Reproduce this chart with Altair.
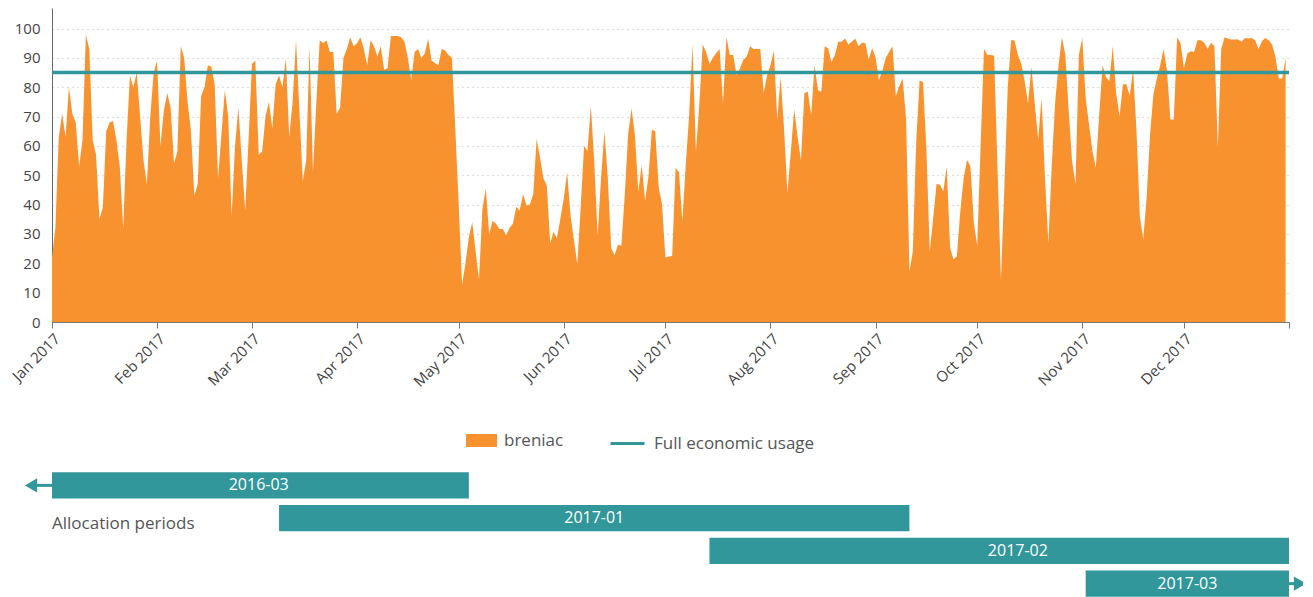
import altair as alt
import pandas as pd

# ---------------- data ----------------
start_date = "2017-01-01"
usage = [
    22, 32, 63, 71, 63, 80, 71, 68, 53, 62,
    98, 93, 62, 57, 35, 39, 65, 68, 68.5, 62,
    53, 32, 62, 84, 80, 85, 70, 55, 47, 70,
    85, 89, 60, 72, 78, 73, 54, 58, 94, 90,
    75, 65, 43, 47, 77, 80, 87.5, 87, 81, 49,
    64, 79, 70, 36, 60, 73, 55, 38, 62, 88,
    89, 57, 58, 70, 75, 66, 81, 84, 80, 90,
    63, 75, 96, 72, 48, 55, 94, 51, 75, 96,
    95, 96, 92, 92, 71, 73, 90, 93, 97, 94,
    95, 97, 93, 87.5, 96, 94, 90.5, 94, 86, 86.5,
    97.5, 97.5, 97.5, 97, 95.5, 90, 82.5, 92, 93, 90,
    91.5, 96.5, 89, 88.3, 87.5, 93, 92.5, 91, 90, 66,
    40, 12.6, 20, 29, 34, 24, 14.5, 38.5, 45.5, 30,
    34.5, 33.5, 31.7, 31.7, 29.6, 32, 33.5, 39.3, 38, 43.5,
    39.7, 40, 43.5, 62.4, 56, 49, 46.5, 26.8, 30.7, 28.5,
    35.3, 42, 51, 36.3, 28, 19.7, 39, 60, 58.3, 73.7,
    54.4, 29.5, 49, 65, 49, 25.2, 22.7, 26.3, 26, 43.2,
    64, 72.8, 63.7, 44.4, 53.4, 41.5, 49.5, 65.5, 65, 46,
    40, 22, 22.3, 22.5, 52.5, 51, 34.3, 53.5, 70.5, 94.5,
    58, 74, 94.6, 92, 88, 90, 91.7, 93, 74.5, 97,
    91, 91, 84, 86.5, 89.4, 90.5, 94, 93, 93, 93,
    78, 84, 87.5, 92.5, 69, 83.5, 66, 44, 58, 72.5,
    63, 55, 78, 78.5, 70.5, 87.5, 79, 78.5, 94, 93.3,
    88.5, 91, 95.5, 95.5, 96.6, 94.6, 95.5, 96.6, 94, 95.2,
    95, 89.4, 93.3, 90.3, 82.5, 85.5, 90, 92, 94, 77,
    80.4, 83, 69.5, 17.2, 24, 61.5, 82.3, 81.8, 59, 24,
    35.3, 47, 46.8, 44.5, 53, 25.3, 21.3, 22.4, 37.6, 49,
    55.3, 53, 33.8, 26, 60, 93, 91, 91, 90.7, 52,
    14.5, 45.6, 79.7, 96, 96, 91, 88, 82, 74.5, 87,
    74, 62.3, 76.3, 49, 26.8, 53.5, 75, 87.5, 97, 91,
    71.8, 54.8, 47, 91, 96.8, 76.3, 67.2, 58.3, 52.6, 70.7,
    87.5, 83.5, 82, 94, 78, 70, 81, 81, 77, 86,
    65.2, 35.7, 28.3, 42.5, 64, 77.7, 83, 87.5, 93, 85.5,
    69, 69, 97, 95, 86.5, 91.5, 92.3, 92, 96, 96,
    95.2, 93, 95.2, 94, 59.5, 93, 97, 96.5, 96.3, 96.3,
    96.3, 95.5, 96.8, 96.6, 96.8, 96, 93, 95.7, 96.8, 96,
    94.6, 90.3, 83, 83, 90,
]
series_name = "breniac"
threshold_name = "Full economic usage"
threshold_value = 85
y_tick_values = [0, 10, 20, 30, 40, 50, 60, 70, 80, 90, 100]

periods = ["2016-03", "2017-01", "2017-02", "2017-03"]
period_start = ["2017-01-01", "2017-03-09", "2017-07-14", "2017-11-02"]
period_end = ["2017-05-04", "2017-09-11", "2018-01-01", "2018-01-01"]
label_dates = ["2017-03-03", "2017-06-10", "2017-10-13", "2017-12-02"]
left_arrow_period = ["2016-03"]
right_arrow_period = ["2017-03"]
side_label = "Allocation periods"
side_label_row = "2017-01"

ORANGE = "#F7922F"
TEAL = "#32979A"
FONT = "Open Sans"
TXT = "#555555"

# ---------------- tables ----------------
dates = pd.date_range(start_date, periods=len(usage), freq="D").strftime("%Y-%m-%dT00:00:00")
df = pd.DataFrame({"date": list(dates), "value": usage, "series": series_name})
rule_df = pd.DataFrame({"value": [threshold_value], "series": [threshold_name]})

def ts(s):
    return s + "T00:00:00"

pdf = pd.DataFrame({
    "period": periods,
    "start": [ts(s) for s in period_start],
    "end": [ts(s) for s in period_end],
    "label_date": [ts(s) for s in label_dates],
})
left_df = pdf[pdf["period"].isin(left_arrow_period)][["period", "start"]].rename(columns={"start": "date"})
right_df = pdf[pdf["period"].isin(right_arrow_period)][["period", "end"]].rename(columns={"end": "date"})
text_df = pd.DataFrame({"period": [side_label_row], "date": [pdf["start"][0]], "text": [side_label]})

x_domain = [alt.DateTime(year=2017, month=1, date=1), alt.DateTime(year=2018, month=1, date=1)]
x_scale = alt.Scale(domain=x_domain)
y_scale = alt.Scale(domain=[0, 107], nice=False)
tick_values = [alt.DateTime(year=2017 + m // 12, month=m % 12 + 1, date=1) for m in range(13)]

y_axis = alt.Axis(
    values=y_tick_values, ticks=False, labelPadding=12, labelOverlap=False,
    labelFontSize=15, labelColor="#444", labelFont=FONT,
    domainColor="#666", grid=True, gridDash=[1, 4], gridColor="#bdbdbd",
)

# ---------------- top chart ----------------
area = alt.Chart(df).mark_area(interpolate="linear", opacity=1).encode(
    x=alt.X(
        "date:T", scale=x_scale, title=None,
        axis=alt.Axis(
            values=tick_values,
            labelExpr="datum.value >= datetime(2018,0,1) ? '' : timeFormat(datum.value, '%b %Y')",
            labelAngle=-45, labelFontSize=15, labelColor="#444", labelFont=FONT,
            tickSize=6, tickColor="#777", domainColor="#777", grid=False, labelPadding=3,
        ),
    ),
    y=alt.Y("value:Q", scale=y_scale, title=None, axis=y_axis),
    fill=alt.Fill(
        "series:N", scale=alt.Scale(domain=[series_name], range=[ORANGE]),
        legend=alt.Legend(
            orient="none", legendX=414, legendY=417, title=None,
            symbolType="M-1,-0.42H1V0.42H-1Z", symbolSize=961, symbolStrokeWidth=0,
            symbolOpacity=1, labelFontSize=17, labelColor=TXT, labelFont=FONT, labelOffset=7,
            labelLimit=300,
        ),
    ),
)

rule = alt.Chart(rule_df).mark_rule(strokeWidth=3.5).encode(
    y=alt.Y("value:Q", scale=y_scale, title=None, axis=y_axis),
    stroke=alt.Stroke(
        "series:N", scale=alt.Scale(domain=[threshold_name], range=[TEAL]),
        legend=alt.Legend(
            orient="none", legendX=557, legendY=417, title=None,
            symbolType="stroke", symbolSize=1156, symbolStrokeWidth=3,
            labelFontSize=17, labelColor=TXT, labelFont=FONT, labelOffset=8,
            labelLimit=300,
        ),
    ),
)

top = alt.layer(area, rule).properties(width=1237, height=314)

# ---------------- bottom chart (allocation periods) ----------------
y_rows = alt.Y("period:N", sort=periods, scale=alt.Scale(domain=periods, paddingInner=0.2, paddingOuter=0.1), axis=None)

bars = alt.Chart(pdf).mark_bar(color=TEAL, opacity=1).encode(
    x=alt.X("start:T", scale=x_scale, axis=None), x2="end:T", y=y_rows,
)
labels = alt.Chart(pdf).mark_text(color="white", fontSize=16, font=FONT).encode(
    x=alt.X("label_date:T", scale=x_scale, axis=None), y=y_rows, text="period:N",
)
left_stem = alt.Chart(left_df).mark_rule(color=TEAL, strokeWidth=3, xOffset=-16, x2Offset=0).encode(
    x=alt.X("date:T", scale=x_scale, axis=None), x2="date:T", y=y_rows,
)
left_head = alt.Chart(left_df).mark_point(shape="triangle-left", filled=True, size=200, color=TEAL, opacity=1, xOffset=-21).encode(
    x=alt.X("date:T", scale=x_scale, axis=None), y=y_rows,
)
right_stem = alt.Chart(right_df).mark_rule(color=TEAL, strokeWidth=3, xOffset=0, x2Offset=8).encode(
    x=alt.X("date:T", scale=x_scale, axis=None), x2="date:T", y=y_rows,
)
right_head = alt.Chart(right_df).mark_point(shape="triangle-right", filled=True, size=200, color=TEAL, opacity=1, xOffset=11).encode(
    x=alt.X("date:T", scale=x_scale, axis=None), y=y_rows,
)
side_text = alt.Chart(text_df).mark_text(align="left", fontSize=17, color=TXT, font=FONT, dy=6).encode(
    x=alt.X("date:T", scale=x_scale, axis=None), y=y_rows, text="text:N",
)

bottom = alt.layer(bars, labels, left_stem, left_head, right_stem, right_head, side_text).properties(
    width=1237, height=131
)

chart = alt.vconcat(top, bottom, spacing=147, bounds="flush").properties(
    padding={"left": 1, "top": 0, "right": -4, "bottom": 0}
).configure(
    font=FONT,
    view=alt.ViewConfig(stroke="transparent", strokeWidth=0),
    axisY=alt.AxisConfig(labelOverlap=False),
)

chart.save("out.html", embed_options={"renderer": "svg", "actions": False})
